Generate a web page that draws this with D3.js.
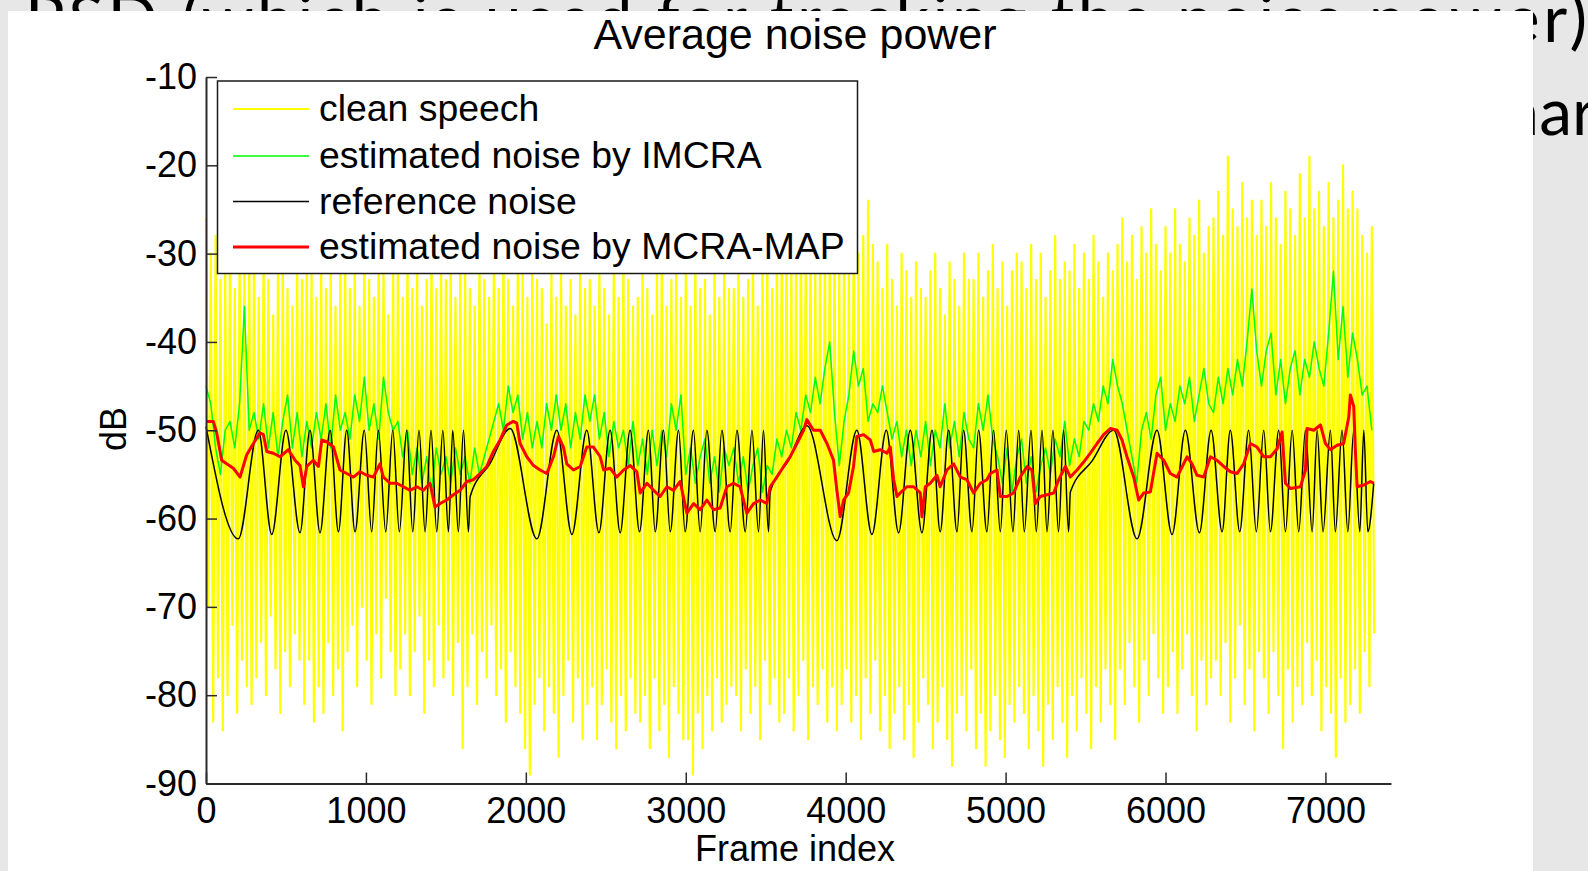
<!DOCTYPE html>
<html>
<head>
<meta charset="utf-8">
<script src="https://cdn.jsdelivr.net/npm/d3@7"></script>
<style>
  body { margin: 0; background: #e7e7e7; }
  svg { display: block; }
</style>
</head>
<body>
<div class="slide"></div>
<script>
/** clean speech and IMCRA are sampled every 30 frames */
let frameStep = 30;

/** clean speech: top and bottom of each 30-frame slice (dB) */
let speechHigh = [
  -26,-30,-28,-33,-31,-29,-34,-30,-32,-29, -31,-35,-30,-33,-37,-32,-30,-34,-36,-31,
  -33,-29,-32,-35,-30,-34,-31,-36,-32,-30, -34,-31,-36,-30,-33,-35,-29,-32,-37,-31,
  -32,-35,-30,-34,-31,-36,-33,-29,-34,-31, -33,-30,-35,-32,-31,-34,-36,-30,-33,-35,
  -31,-34,-29,-33,-36,-30,-32,-35,-31,-33, -34,-38,-32,-35,-31,-36,-33,-37,-30,-34,
  -33,-36,-31,-34,-37,-32,-35,-30,-33,-36, -35,-31,-34,-37,-32,-30,-36,-33,-31,-35,
  -32,-36,-30,-34,-33,-37,-31,-35,-32,-34, -34,-31,-35,-33,-29,-36,-32,-30,-34,-28,
  -29,-27,-31,-28,-26,-30,-28,-32,-29,-27, -30,-28,-32,-29,-31,-27,-30,-28,-24,-29,
  -31,-34,-29,-33,-36,-30,-32,-35,-31,-34, -35,-32,-30,-34,-37,-31,-33,-36,-30,-33,
  -33,-30,-35,-32,-29,-34,-31,-36,-32,-30, -31,-34,-29,-33,-30,-35,-32,-28,-33,-31,
  -32,-29,-34,-30,-33,-28,-31,-35,-30,-32, -29,-26,-31,-28,-33,-27,-30,-25,-29,-32,
  -27,-30,-25,-29,-31,-26,-28,-24,-30,-27, -26,-23,-28,-19,-25,-27,-22,-26,-24,-28,
  -24,-27,-22,-26,-29,-23,-25,-28,-21,-26, -19,-25,-23,-27,-22,-26,-24,-20,-25,-23,
  -25,-28,-30,-27
];
let speechLow = [
  -70,-83,-78,-84,-80,-72,-82,-76,-79,-81, -78,-74,-80,-71,-77,-82,-75,-79,-73,-76,
  -81,-76,-83,-79,-82,-74,-80,-77,-84,-75, -72,-79,-70,-76,-81,-73,-78,-69,-75,-80,
  -77,-73,-80,-75,-71,-82,-76,-79,-72,-78, -76,-80,-74,-86,-79,-73,-81,-75,-78,-72,
  -80,-77,-83,-75,-79,-82,-86,-89,-81,-78, -84,-79,-82,-87,-80,-76,-83,-78,-85,-81,
  -79,-85,-81,-77,-83,-86,-80,-84,-78,-82, -83,-80,-86,-78,-84,-81,-87,-79,-82,-85,
  -85,-89,-82,-86,-80,-84,-78,-83,-81,-79, -80,-84,-77,-82,-79,-85,-76,-81,-78,-83,
  -82,-78,-84,-80,-76,-85,-79,-81,-77,-83, -79,-84,-81,-77,-83,-80,-85,-78,-82,-76,
  -84,-80,-86,-82,-79,-85,-81,-87,-83,-78, -81,-86,-83,-79,-85,-88,-82,-80,-84,-77,
  -86,-82,-88,-84,-80,-85,-87,-81,-83,-79, -82,-86,-80,-84,-88,-81,-85,-79,-83,-87,
  -80,-84,-78,-82,-86,-79,-83,-77,-81,-85, -77,-81,-74,-79,-83,-76,-80,-73,-78,-82,
  -79,-75,-82,-77,-73,-80,-84,-76,-81,-78, -76,-80,-74,-83,-78,-72,-81,-77,-84,-75,
  -78,-82,-75,-80,-86,-77,-83,-79,-81,-74, -80,-76,-84,-79,-82,-87,-78,-83,-81,-77,
  -82,-75,-79,-73
];

/** estimated noise by IMCRA (dB) */
let imcraNoise = [
  -45,-47,-52,-55,-50,-49,-52,-47,-36,-50, -48,-51,-47,-52,-48,-53,-49,-46,-52,-48,
  -53,-49,-52,-48,-51,-47,-52,-46,-50,-48, -51,-46,-49,-44,-50,-47,-51,-44,-48,-50,
  -49,-53,-50,-55,-52,-56,-53,-57,-52,-55, -53,-56,-52,-55,-53,-56,-52,-55,-53,-51,
  -49,-47,-50,-45,-48,-46,-51,-48,-52,-49, -52,-47,-50,-46,-50,-47,-52,-48,-51,-46,
  -49,-46,-51,-48,-53,-49,-52,-50,-54,-49, -54,-51,-55,-50,-54,-50,-53,-47,-50,-46,
  -55,-52,-56,-53,-51,-56,-53,-57,-52,-54, -52,-56,-53,-57,-54,-52,-57,-54,-55,-51,
  -53,-50,-52,-48,-50,-46,-48,-44,-47,-43, -40,-48,-54,-49,-46,-41,-45,-43,-49,-47,
  -48,-45,-48,-51,-49,-53,-50,-54,-50,-53, -49,-54,-50,-52,-47,-52,-49,-53,-48,-51,
  -52,-47,-50,-46,-51,-53,-56,-52,-57,-53, -51,-56,-53,-57,-54,-52,-55,-51,-53,-49,
  -54,-51,-53,-49,-50,-47,-49,-45,-47,-42, -45,-47,-50,-53,-56,-50,-48,-51,-46,-44,
  -50,-47,-49,-45,-47,-44,-49,-46,-43,-47, -48,-44,-47,-43,-46,-42,-45,-40,-34,-41,
  -45,-41,-39,-46,-42,-47,-43,-41,-46,-42, -44,-40,-43,-45,-39,-32,-42,-36,-44,-39,
  -42,-46,-45,-50
];

/** reference noise: [frame, dB] at its peaks and troughs */
let refNoise = [
  [0,-49.6],[202,-62.3],[327,-50],[411,-61.8],[500,-50],[588,-61.6],[650,-50],[713,-61.6],[776,-50],[828,-61.5],
  [880,-50],[932,-61.5],[990,-50],[1036,-61.5],[1078,-50],[1124,-61.5],[1168,-50],[1209,-61.5],[1255,-50],[1293,-61.5],
  [1332,-50],[1370,-61.5],[1407,-50],[1443,-61.5],[1481,-50],[1516,-61.5],[1543,-50],[1578,-61.5],[1610,-50],[1641,-61.5],
  [1652,-57.5],[1775,-53.8],[1902,-49.8],
  [2069,-62.3],[2194,-50],[2288,-61.8],[2381,-50],[2457,-61.6],[2527,-50],[2590,-61.6],[2652,-50],[2711,-61.5],[2767,-50],
  [2809,-61.5],[2861,-50],[2903,-61.5],[2955,-50],[2996,-61.5],[3048,-50],[3090,-61.5],[3132,-50],[3184,-61.5],[3226,-50],
  [3278,-61.5],[3320,-50],[3372,-61.5],[3414,-50],[3455,-61.5],[3486,-50],[3517,-61.5],[3528,-57],[3643,-53.4],[3758,-49.5],
  [3945,-62.5],[4070,-50],[4164,-61.8],[4254,-50],[4331,-61.6],[4404,-50],[4477,-61.6],[4540,-50],[4591,-61.5],[4644,-50],
  [4696,-61.5],[4737,-50],[4790,-61.5],[4831,-50],[4883,-61.5],[4925,-50],[4967,-61.5],[5004,-50],[5046,-61.5],[5082,-50],
  [5117,-61.5],[5159,-50],[5192,-61.5],[5228,-50],[5259,-61.5],[5296,-50],[5331,-61.5],[5363,-50],[5394,-61.5],
  [5405,-57],[5540,-53.5],[5676,-50],
  [5822,-62.3],[5947,-50],[6041,-61.8],[6124,-50],[6212,-61.6],[6285,-50],[6354,-61.5],[6405,-50],[6464,-61.5],[6520,-50],
  [6568,-61.5],[6614,-50],[6656,-61.5],[6708,-50],[6750,-61.5],[6792,-50],[6833,-61.5],[6875,-50],[6917,-61.5],[6948,-50],
  [6985,-61.5],[7031,-50],[7062,-61.5],[7104,-50],[7140,-61.5],[7177,-50],[7215,-61.5],[7240,-50],[7265,-61.5],[7302,-56]
];

/** estimated noise by MCRA-MAP: [frame, dB] */
let mapNoise = [
  [0,-49.0],[46,-49.0],[67,-50.3],[98,-53.4],[129,-53.8],[171,-54.3],[213,-55.3],[254,-52.8],[296,-51.5],[338,-50.3],
  [359,-50.5],[380,-52.4],[421,-52.6],[463,-53.0],[515,-52.2],[557,-53.4],[588,-54.0],[609,-56.4],[630,-54.1],[671,-53.4],
  [703,-54.1],[724,-51.1],[755,-51.3],[797,-51.9],[838,-54.5],[880,-54.9],[922,-55.3],[963,-54.7],[1005,-55.1],[1047,-55.3],
  [1088,-53.8],[1109,-55.3],[1151,-56.0],[1193,-56.0],[1234,-56.4],[1276,-56.8],[1318,-56.4],[1359,-56.8],[1401,-56.0],[1432,-58.7],
  [1464,-58.3],[1505,-57.9],[1547,-57.3],[1589,-56.8],[1631,-55.8],[1672,-55.6],[1714,-54.9],[1756,-54.1],[1797,-52.4],[1839,-51.1],
  [1881,-49.4],[1922,-49.0],[1943,-49.2],[1964,-51.5],[2006,-53.0],[2048,-54.0],[2089,-54.5],[2131,-54.9],[2173,-53.0],[2204,-50.7],
  [2235,-51.9],[2256,-53.8],[2298,-54.5],[2340,-54.1],[2381,-51.9],[2423,-51.9],[2465,-53.0],[2486,-54.5],[2527,-54.3],[2569,-55.3],
  [2611,-54.5],[2653,-54.0],[2694,-54.7],[2715,-57.1],[2757,-56.0],[2799,-56.8],[2840,-57.5],[2882,-56.4],[2924,-56.8],[2965,-55.8],
  [3007,-59.4],[3049,-58.3],[3090,-59.0],[3132,-57.9],[3174,-59.0],[3215,-58.8],[3257,-56.4],[3299,-56.0],[3340,-56.4],[3382,-59.4],
  [3424,-58.3],[3466,-57.9],[3507,-58.3],[3528,-56.4],[3570,-55.3],[3612,-54.1],[3653,-53.0],[3695,-51.5],[3737,-50.0],[3757,-48.8],
  [3799,-50.0],[3841,-50.0],[3883,-51.5],[3924,-53.4],[3945,-56.8],[3966,-59.8],[3987,-57.9],[4018,-57.1],[4049,-54.1],[4070,-50.7],
  [4112,-50.5],[4154,-51.1],[4175,-52.4],[4216,-52.2],[4258,-52.6],[4279,-51.9],[4300,-55.6],[4321,-57.5],[4341,-57.1],[4383,-56.4],
  [4425,-56.4],[4466,-57.1],[4477,-59.8],[4498,-56.4],[4529,-56.0],[4571,-55.1],[4591,-56.4],[4633,-54.5],[4675,-53.8],[4717,-55.3],
  [4758,-55.6],[4800,-57.1],[4842,-56.0],[4883,-55.6],[4904,-54.9],[4946,-54.5],[4967,-57.5],[5009,-57.5],[5050,-57.1],[5092,-55.3],
  [5134,-54.1],[5165,-54.5],[5186,-58.3],[5217,-57.5],[5259,-57.3],[5301,-57.1],[5332,-55.6],[5374,-54.1],[5405,-55.3],[5447,-54.5],
  [5488,-53.6],[5530,-52.6],[5572,-51.5],[5613,-50.5],[5655,-49.8],[5697,-50.0],[5728,-51.1],[5759,-53.0],[5801,-55.3],[5832,-57.9],
  [5864,-57.1],[5905,-57.0],[5947,-52.6],[5989,-53.4],[6030,-54.9],[6072,-55.3],[6135,-53.0],[6166,-53.8],[6197,-55.1],[6239,-55.3],
  [6281,-53.0],[6322,-53.4],[6364,-54.1],[6406,-54.7],[6447,-54.9],[6489,-53.8],[6531,-51.5],[6572,-51.9],[6614,-53.0],[6656,-53.0],
  [6698,-52.1],[6729,-50.2],[6750,-56.0],[6781,-56.6],[6844,-56.4],[6875,-54.5],[6885,-49.8],[6927,-50.0],[6969,-49.4],[7000,-51.5],
  [7031,-52.2],[7073,-51.7],[7114,-51.5],[7146,-48.5],[7156,-46.0],[7177,-47.3],[7187,-52.2],[7198,-56.4],[7240,-56.2],[7281,-55.8],
  [7302,-56.0]
];

let xTicks = [0, 1000, 2000, 3000, 4000, 5000, 6000, 7000];
let yTicks = [-90, -80, -70, -60, -50, -40, -30, -20, -10];
let legendLabels = ['clean speech', 'estimated noise by IMCRA', 'reference noise', 'estimated noise by MCRA-MAP'];
let seriesColors = ['#ffff00', '#00ff00', '#000000', '#ff0000'];
let seriesWidths = [2.2, 1.5, 1.5, 3];

/** Set up canvas */
let width = 1588, height = 871;
let plot = { left: 206, right: 1391, top: 77, bottom: 783.5 };
let axisFont = '"Liberation Sans", Arial, sans-serif';
let slideFont = 'Lato, "Open Sans", sans-serif';

let svg = d3.select('.slide').append('svg')
    .attr('width', width)
    .attr('height', height);

/** slide text that sits behind the figure, only its edges show */
svg.append('rect').attr('width', width).attr('height', height).attr('fill', '#e7e7e7');
svg.append('text')
    .attr('x', 25).attr('y', 42)
    .attr('textLength', 1562).attr('lengthAdjust', 'spacing')
    .style('font-family', slideFont).style('font-size', '66px')
    .text('PSD (which is used for tracking the noise power)');
svg.append('text')
    .attr('x', 1630).attr('y', 135)
    .attr('text-anchor', 'end')
    .style('font-family', slideFont).style('font-size', '66px')
    .text('nonstationary');

/** white figure */
svg.append('rect').attr('x', 8).attr('y', 11).attr('width', 1525).attr('height', height - 11).attr('fill', '#ffffff');

/** scales */
let xScale = d3.scaleLinear().domain([0, 7410]).range([plot.left, plot.right]);
let yScale = d3.scaleLinear().domain([-90, -10]).range([plot.bottom, plot.top]);

let line = d3.line()
    .x(function (d) { return xScale(d[0]); })
    .y(function (d) { return yScale(d[1]); });

/** clean speech: zig-zag between the top and bottom of each slice */
let speechPts = [];
speechHigh.forEach(function (v, i) {
    speechPts.push([i * frameStep, v]);
    speechPts.push([i * frameStep + frameStep / 2, speechLow[i]]);
});
let imcraPts = imcraNoise.map(function (v, i) { return [i * frameStep, v]; });

let lines = svg.append('g').attr('fill', 'none').attr('stroke-linejoin', 'round');
lines.append('path').attr('d', line(speechPts))
    .attr('stroke', seriesColors[0]).attr('stroke-width', seriesWidths[0]);
lines.append('path').attr('d', line(imcraPts))
    .attr('stroke', seriesColors[1]).attr('stroke-width', seriesWidths[1]);
lines.append('path').attr('d', line.curve(d3.curveMonotoneX)(refNoise))
    .attr('stroke', seriesColors[2]).attr('stroke-width', seriesWidths[2]);
line.curve(d3.curveLinear);
lines.append('path').attr('d', line(mapNoise))
    .attr('stroke', seriesColors[3]).attr('stroke-width', seriesWidths[3]);

/** axes, ticks point inward like matlab */
let xAxis = d3.axisBottom(xScale).tickValues(xTicks)
    .tickSizeInner(-11).tickSizeOuter(0).tickPadding(14)
    .tickFormat(function (d) { return String(d); });
let yAxis = d3.axisLeft(yScale).tickValues(yTicks)
    .tickSizeInner(-11).tickSizeOuter(0).tickPadding(9)
    .tickFormat(function (d) { return String(d); });

let gx = svg.append('g').attr('transform', `translate(0, ${plot.bottom})`).call(xAxis);
let gy = svg.append('g').attr('transform', `translate(${plot.left}, 0)`).call(yAxis);
[gx, gy].forEach(function (g) {
    g.select('.domain').attr('stroke', '#2b2b2b').attr('stroke-width', 2);
    g.selectAll('.tick line').attr('stroke', '#2b2b2b').attr('stroke-width', 1.5);
    g.selectAll('.tick text')
        .attr('fill', '#000')
        .style('font-family', axisFont)
        .style('font-size', '36px');
});

/** legend */
let legend = svg.append('g');
legend.append('rect')
    .attr('x', 217.5).attr('y', 81)
    .attr('width', 640).attr('height', 192.5)
    .attr('fill', '#fff').attr('stroke', '#1a1a1a').attr('stroke-width', 1.5);
let legendRows = [109, 156, 201.5, 247];
legendLabels.forEach(function (label, i) {
    legend.append('line')
        .attr('x1', 233).attr('x2', 309)
        .attr('y1', legendRows[i]).attr('y2', legendRows[i])
        .attr('stroke', seriesColors[i]).attr('stroke-width', Math.min(seriesWidths[i], 3));
    legend.append('text')
        .attr('x', 319).attr('y', legendRows[i] + 12)
        .style('font-family', axisFont).style('font-size', '37.4px')
        .text(label);
});

/** titles */
svg.append('text')
    .attr('x', 795).attr('y', 49)
    .attr('text-anchor', 'middle')
    .style('font-family', axisFont).style('font-size', '43px')
    .text('Average noise power');
svg.append('text')
    .attr('x', 795).attr('y', 861)
    .attr('text-anchor', 'middle')
    .style('font-family', axisFont).style('font-size', '36px')
    .text('Frame index');
svg.append('text')
    .attr('transform', 'translate(126, 429) rotate(-90)')
    .attr('text-anchor', 'middle')
    .style('font-family', axisFont).style('font-size', '36px')
    .text('dB');
</script>
</body>
</html>
